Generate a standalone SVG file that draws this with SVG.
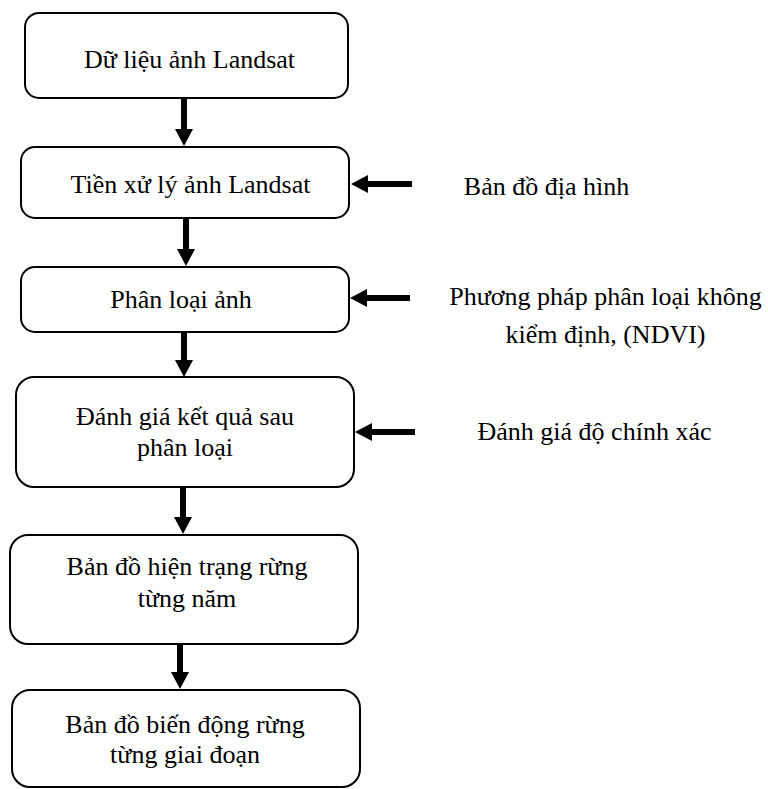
<svg xmlns="http://www.w3.org/2000/svg" width="768" height="789" viewBox="0 0 768 789">
<style>
.box{fill:#fff;stroke:#000;stroke-width:2}
.c{stroke:#000;stroke-width:6;fill:none}
</style>
<defs>
<marker id="ah" markerUnits="userSpaceOnUse" markerWidth="18" markerHeight="18" refX="0" refY="9" orient="auto" viewBox="0 0 18 18">
<path d="M0,0 L17,9 L0,18 z" fill="#000"/>
</marker>
</defs>
<rect width="768" height="789" fill="#fff"/>
<g id="connectors">
<path class="c" d="M184,99 V129" marker-end="url(#ah)"/>
<path class="c" d="M186,218 V249" marker-end="url(#ah)"/>
<path class="c" d="M184,332 V360" marker-end="url(#ah)"/>
<path class="c" d="M183,487 V517" marker-end="url(#ah)"/>
<path class="c" d="M180,644 V672" marker-end="url(#ah)"/>
<path class="c" d="M412,184 H368" marker-end="url(#ah)"/>
<path class="c" d="M410,298 H367" marker-end="url(#ah)"/>
<path class="c" d="M415,432 H372" marker-end="url(#ah)"/>
</g>
<g font-family="Liberation Serif" font-size="26" text-anchor="middle" fill="#000">
<g id="n1"><rect class="box" x="25" y="13" width="323" height="85" rx="14"/><text x="189.5" y="68">Dữ liệu ảnh Landsat</text></g>
<g id="n2"><rect class="box" x="21" y="147" width="328" height="71" rx="14"/><text x="190.5" y="193">Tiền xử lý ảnh Landsat</text></g>
<g id="n3"><rect class="box" x="21" y="267" width="328" height="65" rx="14"/><text x="181" y="308">Phân loại ảnh</text></g>
<g id="n4"><rect class="box" x="16" y="377" width="338" height="110" rx="18"/><text x="185" y="425">Đánh giá kết quả sau</text><text x="185" y="456">phân loại</text></g>
<g id="n5"><rect class="box" x="10" y="535" width="348" height="109" rx="18"/><text x="187" y="575">Bản đồ hiện trạng rừng</text><text x="187" y="607">từng năm</text></g>
<g id="n6"><rect class="box" x="12" y="690" width="348" height="97" rx="18"/><text x="185" y="733">Bản đồ biến động rừng</text><text x="185" y="763">từng giai đoạn</text></g>
<g id="r1"><text x="546.5" y="195">Bản đồ địa hình</text></g>
<g id="r2"><text x="605.5" y="305">Phương pháp phân loại không</text><text x="605.5" y="343">kiểm định, (NDVI)</text></g>
<g id="r3"><text x="594.5" y="440">Đánh giá độ chính xác</text></g>
</g>
</svg>
